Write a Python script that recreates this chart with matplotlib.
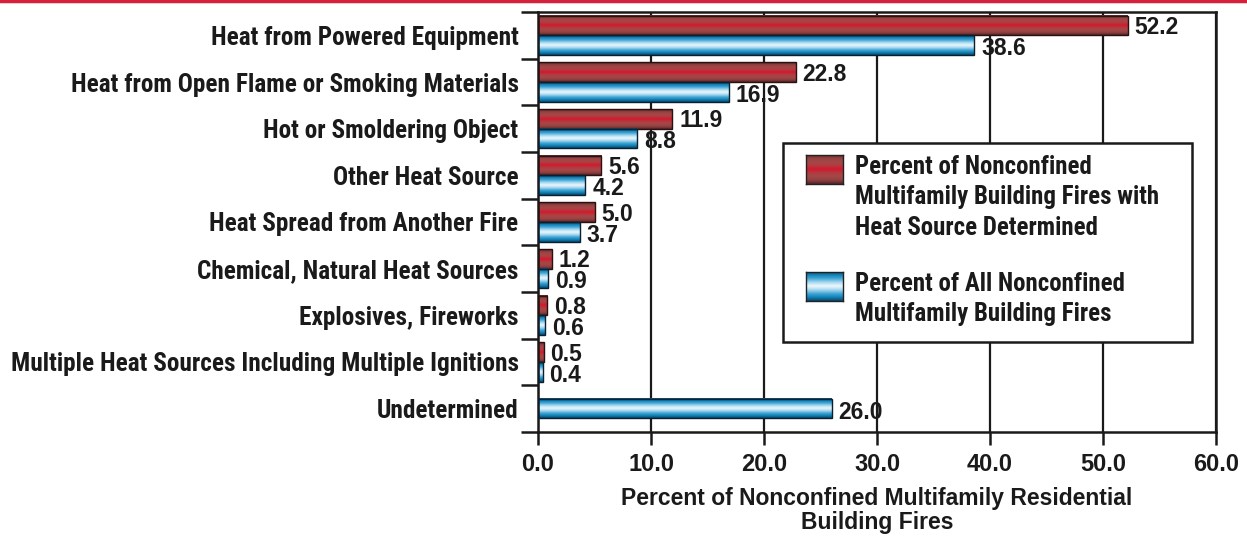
import numpy as np
import matplotlib
matplotlib.use("Agg")
import matplotlib.pyplot as plt
from matplotlib import font_manager
from matplotlib.font_manager import FontProperties
from matplotlib.colors import LinearSegmentedColormap
from matplotlib.patches import Rectangle
from matplotlib.lines import Line2D

# data
categories = [
    "Heat from Powered Equipment",
    "Heat from Open Flame or Smoking Materials",
    "Hot or Smoldering Object",
    "Other Heat Source",
    "Heat Spread from Another Fire",
    "Chemical, Natural Heat Sources",
    "Explosives, Fireworks",
    "Multiple Heat Sources Including Multiple Ignitions",
    "Undetermined",
]
pct_determined = [52.2, 22.8, 11.9, 5.6, 5.0, 1.2, 0.8, 0.5, None]
pct_all = [38.6, 16.9, 8.8, 4.2, 3.7, 0.9, 0.6, 0.4, 26.0]
xticks = [0, 10, 20, 30, 40, 50, 60]
legend_labels = [
    "Percent of Nonconfined\nMultifamily Building Fires with\nHeat Source Determined",
    "Percent of All Nonconfined\nMultifamily Building Fires",
]
xlabel = "Percent of Nonconfined Multifamily Residential\nBuilding Fires"


def pick_condensed():
    # look for any bold condensed / narrow face, else plain bold
    best = None
    for f in font_manager.fontManager.ttflist:
        fn = f.fname.lower()
        w = f.weight if isinstance(f.weight, int) else {"bold": 700, "semibold": 600, "demibold": 600}.get(f.weight, 400)
        if w < 600 or "italic" in fn or "oblique" in fn:
            continue
        if "condensed" in fn or "narrow" in fn or f.stretch in ("condensed", "semi-condensed"):
            rank = 0 if "roboto" in fn else 1 if "narrow" in fn else 2
            if best is None or rank < best[0]:
                best = (rank, f.fname)
    if best:
        return FontProperties(fname=best[1])
    return FontProperties(family="Liberation Sans", weight="bold")


cond = pick_condensed()
wide = FontProperties(family="Liberation Sans", weight="bold")
ink = "#1a1a1a"

red_cmap = LinearSegmentedColormap.from_list(
    "redbar", ["#55262a", "#93403f", "#a44848", "#b03c40", "#d6162f", "#b03c40", "#a44848", "#93403f", "#55262a"])
blue_cmap = LinearSegmentedColormap.from_list(
    "bluebar", ["#08496f", "#1283b8", "#45a8d6", "#a9daf0", "#eef8fc", "#a9daf0", "#45a8d6", "#1283b8", "#08496f"])
grad = np.linspace(0, 1, 64).reshape(-1, 1)

W, H = 1247, 542
fig = plt.figure(figsize=(W / 100, H / 100), dpi=100)
ax = fig.add_axes([538 / W, 1 - 432 / H, (1216 - 538) / W, (432 - 12) / H])

n = len(categories)
ypos = np.arange(n)
bh = 0.42


def gradient_bar(bar, cmap):
    x0, y0 = bar.get_x(), bar.get_y()
    ax.imshow(grad, cmap=cmap, aspect="auto", interpolation="bilinear",
              extent=(x0, x0 + bar.get_width(), y0 + bar.get_height(), y0), zorder=2)


for i in range(n):
    a = pct_all[i]
    d = pct_determined[i]
    if d is not None:
        rb = ax.barh(ypos[i] - bh / 2, d, height=bh, facecolor="none",
                     edgecolor="#2a1010", linewidth=1.0, zorder=3)[0]
        gradient_bar(rb, red_cmap)
        ax.annotate(f"{d:.1f}", (d, ypos[i] - bh / 2), xytext=(5, -1.5),
                    textcoords="offset points", va="center", ha="left",
                    fontproperties=wide, fontsize=16.5, color=ink)
        yb = ypos[i] + bh / 2
    else:
        yb = ypos[i]
    bb = ax.barh(yb, a, height=bh, facecolor="none", edgecolor="#0a2030", linewidth=1.0, zorder=3)[0]
    gradient_bar(bb, blue_cmap)
    ax.annotate(f"{a:.1f}", (a, yb), xytext=(5, -2.5), textcoords="offset points",
                va="center", ha="left", fontproperties=wide, fontsize=16.5, color=ink)

ax.set_xlim(0, 60)
ax.set_ylim(n - 0.5, -0.5)
ax.set_xticks(xticks)
ax.set_xticklabels([f"{t:.1f}" for t in xticks], fontproperties=wide, fontsize=17, color=ink)
ax.set_yticks(ypos)
ylabs = ax.set_yticklabels(categories, fontproperties=cond, fontsize=15, color=ink)
ax.set_yticks(np.arange(n + 1) - 0.5, minor=True)
ax.tick_params(axis="y", which="major", length=0, pad=14)
ax.tick_params(axis="y", which="minor", length=12, width=1.8, color=ink)
ax.tick_params(axis="x", length=9, width=1.8, color=ink, pad=6)
ax.grid(axis="x", color=ink, linewidth=1.6, zorder=0)
ax.set_axisbelow(True)
for s in ax.spines.values():
    s.set_linewidth(1.8)
    s.set_color(ink)
ax.set_xlabel(xlabel, fontproperties=wide, fontsize=16.5, color=ink, labelpad=8, linespacing=1.05)


def fx(x):
    return x / W


def fy(y):
    return 1 - y / H


# legend box
fig.add_artist(Rectangle((fx(783), fy(342)), fx(1192) - fx(783), fy(143) - fy(342),
                         transform=fig.transFigure, facecolor="white", edgecolor=ink,
                         linewidth=1.8, zorder=5))
leg_texts = []
for (top, cmap, lab) in [(155, red_cmap, legend_labels[0]), (272, blue_cmap, legend_labels[1])]:
    iax = fig.add_axes([fx(806), fy(top + 29), fx(843) - fx(806), fy(top) - fy(top + 29)], zorder=6)
    iax.imshow(grad, cmap=cmap, aspect="auto", interpolation="bilinear")
    iax.set_xticks([])
    iax.set_yticks([])
    for s in iax.spines.values():
        s.set_linewidth(1.0)
        s.set_color("#222222")
    leg_texts.append(fig.text(fx(855), fy(top), lab, ha="left", va="top", fontproperties=cond,
                              fontsize=15, color=ink, linespacing=1.6, zorder=7))

# scale the condensed text so widths match the original layout
fig.canvas.draw()
r = fig.canvas.get_renderer()
longest = max(ylabs, key=lambda t: t.get_window_extent(r).width)
s = 508 / longest.get_window_extent(r).width
for t in ylabs:
    t.set_fontsize(15 * s)
s2 = 305 / max(t.get_window_extent(r).width for t in leg_texts)
for t in leg_texts:
    t.set_fontsize(15 * s2)
    t.set_linespacing(1.6 / s2)

# red rule across the top
fig.add_artist(Line2D([0, 1], [fy(1), fy(1)], transform=fig.transFigure, color="#d4213d", linewidth=2.5))

fig.savefig("out.png", dpi=100)
